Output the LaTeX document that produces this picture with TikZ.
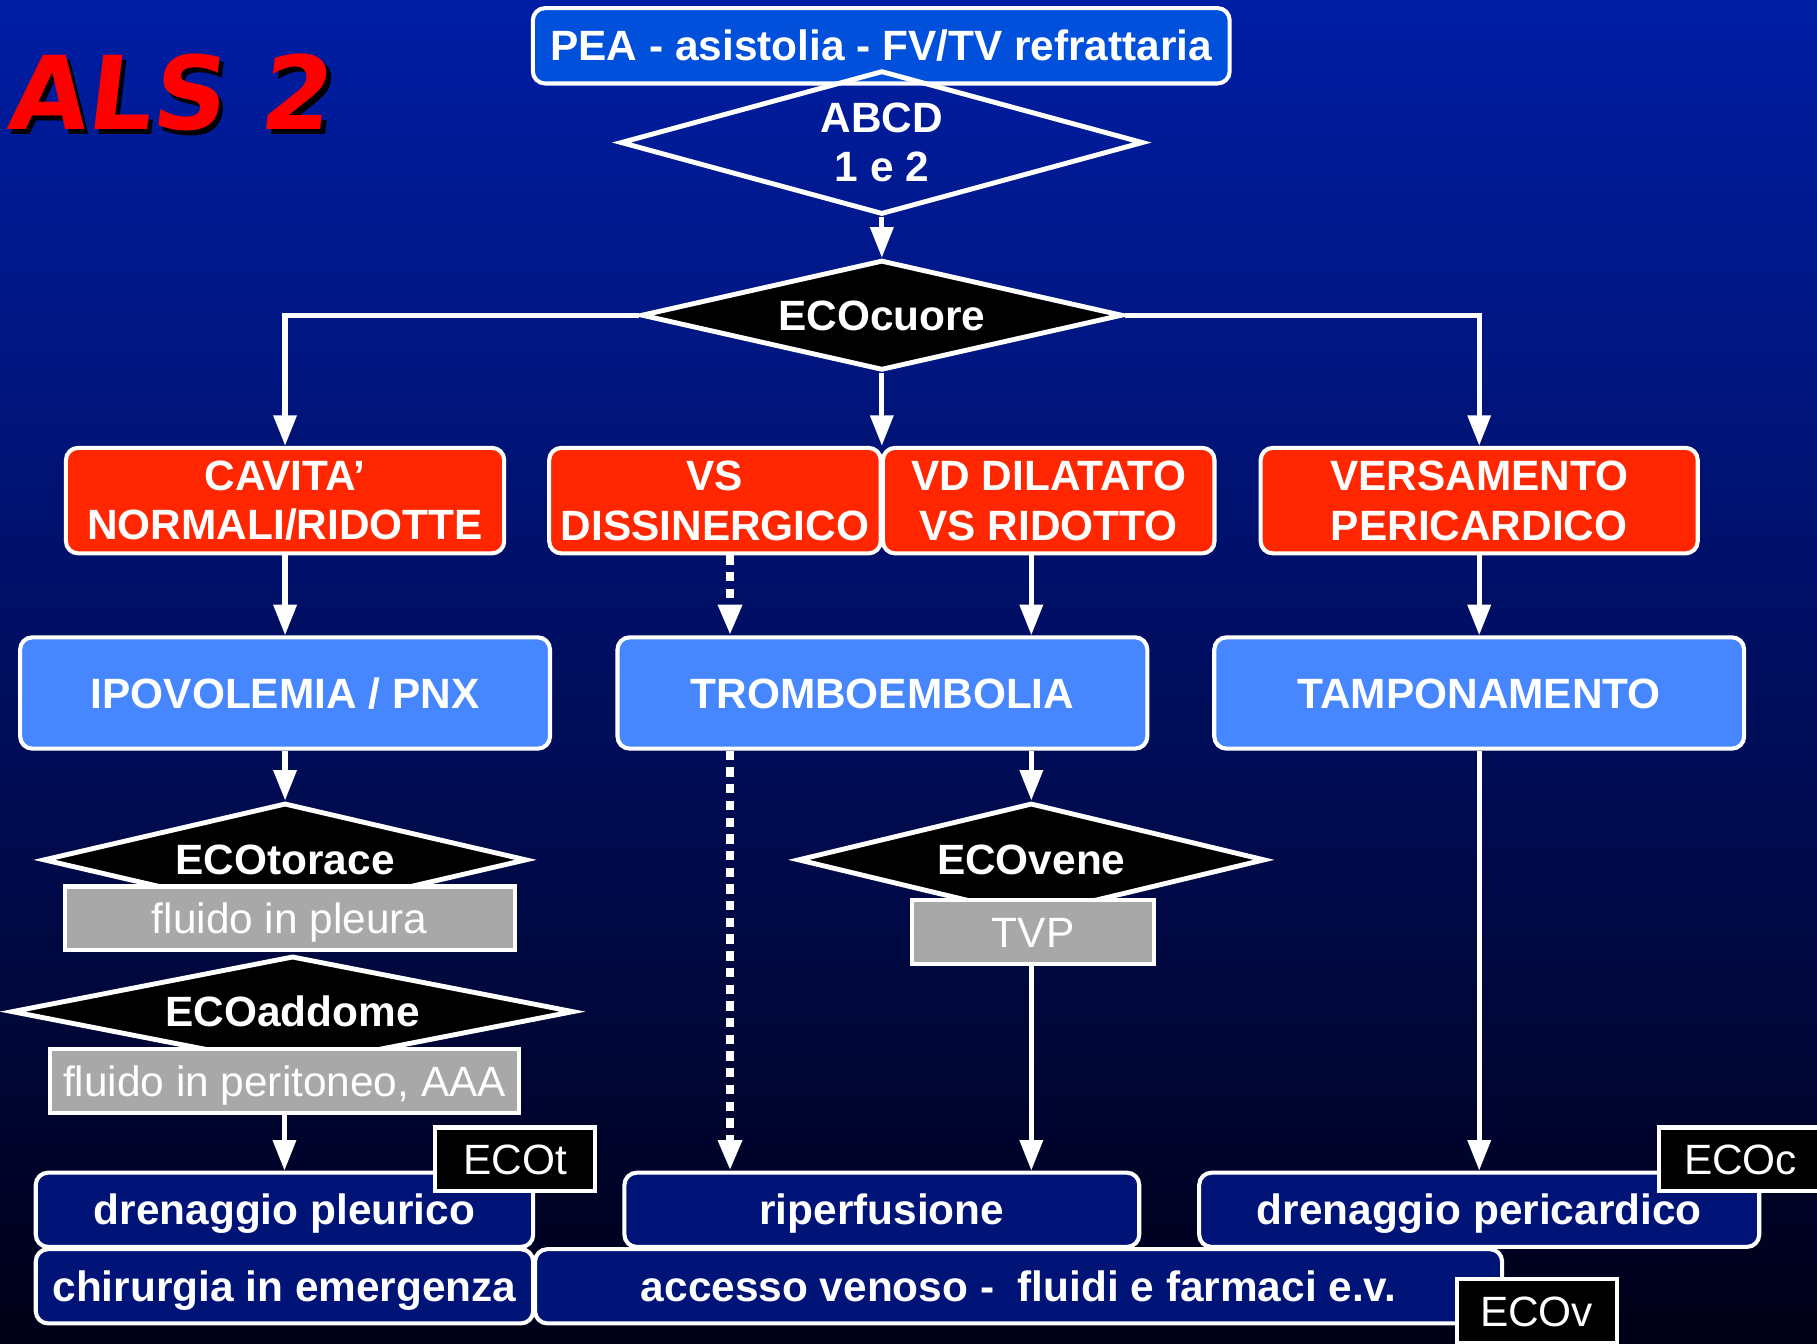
\documentclass[tikz,border=0pt]{standalone}
\usepackage{fontspec}
\setmainfont{Liberation Sans}
\newfontfamily\comicfont{DejaVu Sans}[FakeSlant=0.12]
\usepackage{xcolor}
\usepackage{tikz}
\usetikzlibrary{arrows.meta,shapes.geometric}

\definecolor{bgtop}{RGB}{0,30,165}
\definecolor{bgmid}{RGB}{0,14,95}
\definecolor{bgbot}{RGB}{0,0,22}
\definecolor{topblue}{RGB}{0,80,220}
\definecolor{alarmred}{RGB}{255,38,0}
\definecolor{diagblue}{RGB}{70,135,255}
\definecolor{actblue}{RGB}{0,20,120}
\definecolor{findgray}{RGB}{168,168,168}

\begin{document}
\begin{tikzpicture}[
  x=0.01cm,y=-0.01cm,
  txt/.style={text=white, font=\fontsize{10.4}{12.2}\selectfont\bfseries, align=center, inner sep=0pt},
  oneline/.style={text height=7.4pt, text depth=0pt},
  box/.style={txt, draw=white, line width=1pt, rounded corners=3pt},
  redbox/.style={box, fill=alarmred, minimum height=0.91cm},
  diagbox/.style={box, oneline, fill=diagblue, minimum height=0.96cm, minimum width=4.57cm},
  actbox/.style={box, oneline, fill=actblue, minimum height=0.64cm},
  check/.style={txt, diamond, draw=white, line width=1.2pt, fill=black, aspect=3.6},
  finding/.style={txt, oneline, font=\fontsize{10.4}{12.2}\selectfont, draw=white, line width=1pt, fill=findgray, minimum height=0.55cm},
  ecotag/.style={finding, fill=black, minimum width=1.38cm},
  arrow/.style={-{Triangle[length=7.5pt,width=5.5pt]}, line width=1.3pt, white},
  dotarrow/.style={arrow, line width=2.1pt, dash pattern=on 2.3pt off 1.8pt}
]
\fill[top color=bgtop, bottom color=bgbot, middle color=bgmid] (0,0) rectangle (1568,1159);
\useasboundingbox (0,0) rectangle (1568,1159);

\node[text=black, font=\comicfont\bfseries\fontsize{25}{25}\selectfont] (titleshadow) at (149,84) {ALS 2};
\node[text=red, font=\comicfont\bfseries\fontsize{25}{25}\selectfont] (title) at (145,80) {ALS 2};

\node[box, oneline, fill=topblue, minimum width=6.01cm, minimum height=0.65cm] (start) at (760.5,39.5) {PEA - asistolia - FV/TV refrattaria};
\node[check, fill=none, minimum width=4.51cm, minimum height=1.24cm] (abcd) at (761,123) {ABCD\\1 e 2};
\node[check, oneline, minimum width=4.15cm, minimum height=0.95cm] (ecocuore) at (761,272) {ECOcuore};

\node[redbox, minimum width=3.78cm] (cavita) at (246,432) {CAVITA’\\NORMALI/RIDOTTE};
\node[redbox, minimum width=2.86cm] (vs) at (617,432) {VS\\DISSINERGICO};
\node[redbox, minimum width=2.86cm] (vd) at (905,432) {VD DILATATO\\VS RIDOTTO};
\node[redbox, minimum width=3.77cm] (versamento) at (1276.5,432) {VERSAMENTO\\PERICARDICO};

\node[diagbox] (ipovolemia) at (246,598) {IPOVOLEMIA / PNX};
\node[diagbox] (tromboembolia) at (761.5,598) {TROMBOEMBOLIA};
\node[diagbox] (tamponamento) at (1276.5,598) {TAMPONAMENTO};

\node[check, oneline, minimum width=4.17cm, minimum height=0.98cm] (ecotorace) at (246,742) {ECOtorace};
\node[finding, minimum width=3.88cm] (pleura) at (250,792.5) {fluido in pleura};
\node[check, oneline, minimum width=4.85cm, minimum height=0.96cm] (ecoaddome) at (252.5,873) {ECOaddome};
\node[finding, minimum width=4.05cm] (peritoneo) at (245.5,933) {fluido in peritoneo, AAA};

\node[check, oneline, minimum width=4.03cm, minimum height=0.98cm] (ecovene) at (890,742) {ECOvene};
\node[finding, minimum width=2.09cm] (tvp) at (891.5,804.5) {TVP};

\node[actbox, minimum width=4.29cm] (drenpleura) at (245.5,1044) {drenaggio pleurico};
\node[actbox, minimum width=4.29cm] (chirurgia) at (245.5,1110) {chirurgia in emergenza};
\node[actbox, minimum width=4.44cm] (riperfusione) at (761,1044) {riperfusione};
\node[actbox, minimum width=8.34cm] (accesso) at (879,1110) {accesso venoso -\ \ fluidi e farmaci e.v.};
\node[actbox, minimum width=4.83cm] (drenpericardio) at (1276.5,1044) {drenaggio pericardico};

\node[ecotag] (ecot) at (444.5,1000.5) {ECOt};
\node[ecotag, minimum width=1.40cm] (ecoc) at (1502,1000.5) {ECOc};
\node[ecotag] (ecov) at (1326,1131.5) {ECOv};

\coordinate (dashx) at (630,0);
\coordinate (vdx) at (890,0);

\draw[arrow] (abcd.south) -- (ecocuore.north);
\draw[arrow] (ecocuore.west) -| (cavita.north);
\draw[arrow] (ecocuore.east) -| (versamento.north);
\draw[arrow] (ecocuore.south) -- (ecocuore.south |- vs.north);
\draw[arrow] (cavita.south) -- (cavita.south |- ipovolemia.north);
\draw[dotarrow] (vs.south -| dashx) -- (tromboembolia.north -| dashx);
\draw[arrow] (vd.south -| vdx) -- (tromboembolia.north -| vdx);
\draw[arrow] (versamento.south) -- (tamponamento.north);
\draw[arrow] (ipovolemia.south) -- (ecotorace.north);
\draw[arrow] (peritoneo.south) -- (peritoneo.south |- drenpleura.north);
\draw[dotarrow] (tromboembolia.south -| dashx) -- (riperfusione.north -| dashx);
\draw[arrow] (tromboembolia.south -| vdx) -- (ecovene.north);
\draw[arrow] (tvp.south -| vdx) -- (riperfusione.north -| vdx);
\draw[arrow] (tamponamento.south) -- (drenpericardio.north);
\end{tikzpicture}
\end{document}
